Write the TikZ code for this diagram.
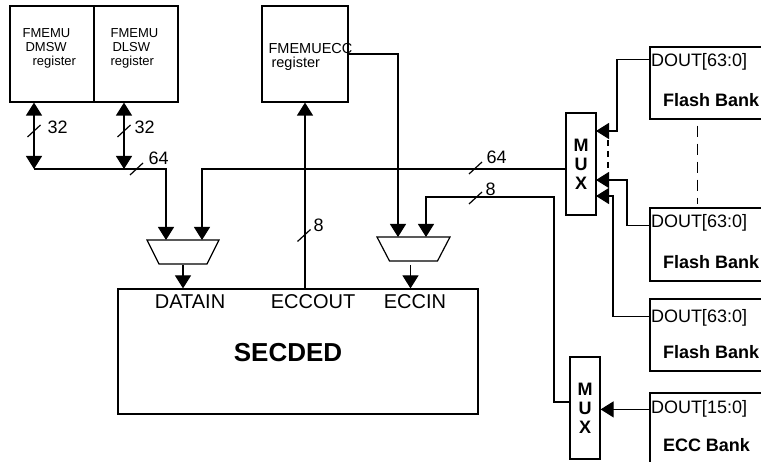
\documentclass[tikz,border=0pt]{standalone}
\usepackage{fontspec}
\setmainfont{Liberation Sans}
\usetikzlibrary{arrows.meta, positioning, calc}

\tikzset{
  box/.style={draw, inner sep=0pt},
  reg/.style={box, minimum width=84pt, minimum height=96pt},
  bank/.style={box, minimum width=130pt, minimum height=72pt},
  muxbox/.style={box, minimum width=30pt, minimum height=102pt, align=center,
    font=\bfseries\fontsize{18}{19}\selectfont},
  txt/.style={anchor=base west, inner sep=0pt},
  reglbl/.style={txt, font=\fontsize{13}{15}\selectfont},
  ecclbl/.style={txt, font=\fontsize{14.5}{16}\selectfont},
  portlbl/.style={anchor=base, inner sep=0pt, font=\fontsize{20}{22}\selectfont},
  buslbl/.style={txt, font=\fontsize{18}{20}\selectfont},
  doutlbl/.style={txt, font=\fontsize{18}{20}\selectfont},
  banklbl/.style={txt, font=\bfseries\fontsize{18}{20}\selectfont},
  arr/.style={-{Triangle[length=13pt,width=16pt]}},
  dbl/.style={{Triangle[length=13pt,width=16pt]}-{Triangle[length=13pt,width=16pt]}},
  dots/.style={dash pattern=on 6pt off 5pt},
  gap/.style={dash pattern=on 11pt off 7pt}
}

\begin{document}
\begin{tikzpicture}[x=1pt, y=-1pt, line width=1.2pt]
  \useasboundingbox (0,0) rectangle (761,462);
  \clip (0,0) rectangle (761,462);

  % Registers
  \node[reg] (dmsw) at (52,54) {};
  \node[reg] (dlsw) at (136,54) {};
  \node[reg, minimum width=86pt] (eccreg) at (305,54) {};
  \node[reglbl] (dmsw1) at (22,37.5) {FMEMU};
  \node[reglbl] (dmsw2) at (25,51.5) {DMSW};
  \node[reglbl] (dmsw3) at (32,66) {register};
  \node[reglbl] (dlsw1) at (110,37.5) {FMEMU};
  \node[reglbl] (dlsw2) at (112,51.5) {DLSW};
  \node[reglbl] (dlsw3) at (110,66) {register};
  \node[ecclbl] (ecc1) at (268,53.5) {FMEMUECC};
  \node[ecclbl] (ecc2) at (271,67.5) {register};

  % SECDED block
  \node[box, minimum width=360pt, minimum height=125pt] (secded) at (298,351.5) {};
  \node[portlbl] (datain) at (190,309) {DATAIN};
  \node[portlbl] (eccout) at (313,309) {ECCOUT};
  \node[portlbl] (eccin) at (415,309) {ECCIN};
  \node[anchor=base, inner sep=0pt, font=\bfseries\fontsize{26}{28}\selectfont] (sectxt) at (288,362) {SECDED};

  % Selectors
  \coordinate (muxatop) at (183,240);
  \coordinate (muxabot) at (183,264);
  \coordinate (muxbtop) at (413.5,237);
  \coordinate (muxbbot) at (413.5,261);
  \draw ([xshift=-36pt]muxatop) -- ([xshift=36pt]muxatop) -- ([xshift=24pt]muxabot) -- ([xshift=-24pt]muxabot) -- cycle;
  \draw ([xshift=-36.5pt]muxbtop) -- ([xshift=36.5pt]muxbtop) -- ([xshift=24pt]muxbbot) -- ([xshift=-24pt]muxbbot) -- cycle;

  % MUXes
  \node[muxbox] (mux1) at (581,164) {M\\U\\X};
  \node[muxbox] (mux2) at (585,408) {M\\U\\X};

  % Banks
  \node[bank] (bank1) at (715,83) {};
  \node[bank, minimum height=73pt] (bank2) at (715,244.5) {};
  \node[bank] (bank3) at (715,335) {};
  \node[bank, minimum height=90pt] (eccbank) at (715,438) {};
  \node[doutlbl] at ([shift={(1,20)}]bank1.north west) {DOUT[63:0]};
  \node[banklbl] at ([shift={(13,60)}]bank1.north west) {Flash Bank};
  \node[doutlbl] at ([shift={(1,20)}]bank2.north west) {DOUT[63:0]};
  \node[banklbl] at ([shift={(13,61)}]bank2.north west) {Flash Bank};
  \node[doutlbl] at ([shift={(1,24)}]bank3.north west) {DOUT[63:0]};
  \node[banklbl] at ([shift={(13,60.5)}]bank3.north west) {Flash Bank};
  \node[doutlbl] at ([shift={(1,21)}]eccbank.north west) {DOUT[15:0]};
  \node[banklbl] at ([shift={(13,59.5)}]eccbank.north west) {ECC Bank};

  % Register bus
  \coordinate (dmswj) at (34,169);
  \coordinate (dlswj) at (124,169);
  \draw[dbl] (dmsw.south -| dmswj) -- (dmswj);
  \draw[dbl] (dlsw.south -| dlswj) -- (dlswj);
  \draw[arr] (dmswj) -| ([xshift=-17pt]muxatop);
  \draw[arr] (mux1.west |- dmswj) -| ([xshift=19pt]muxatop);
  \draw[arr] ([yshift=-1pt]muxabot) -- (muxabot |- secded.north);

  % ECC path
  \coordinate (eccbus) at (554,197);
  \draw[arr] (secded.north -| eccreg) -- (eccreg.south);
  \draw[arr] (eccreg.east) -| ([xshift=-15.5pt]muxbtop);
  \draw[arr] ([yshift=6pt]mux2.west) -| (eccbus) -| ([xshift=12.5pt]muxbtop);
  \draw[arr] ([shift={(-3,4)}]muxbbot) -- ([xshift=-3pt]muxbbot |- secded.north);

  % Bank outputs
  \coordinate (m1a) at (596,131);
  \coordinate (m1b) at (596,180);
  \coordinate (m1c) at (596,196);
  \coordinate (eccport) at ([yshift=-17pt]eccbank.north west);
  \draw[arr] ([yshift=-13pt]bank1.north west) -| ([xshift=21pt]m1a) -- (m1a);
  \draw[arr] ([yshift=-18pt]bank2.north west) -| ([xshift=31pt]m1b) -- (m1b);
  \draw[arr] ([yshift=-18pt]bank3.north west) -| ([xshift=17pt]m1c) -- (m1c);
  \draw[arr] (eccport) -- (eccport -| mux2.east);
  \draw[dots] ([shift={(12,9)}]m1a) -- ([shift={(12,-7)}]m1b);
  \draw[gap] ([shift={(48,6)}]bank1.south west) -- ([shift={(48,-3)}]bank2.north west);

  % Bus widths
  \draw (27.5,137) -- ++(13,-12);
  \draw (117.5,137) -- ++(13,-12);
  \draw (130,175) -- ++(13,-12);
  \draw (297.5,241.5) -- ++(13,-12);
  \draw (469,174) -- ++(13,-12);
  \draw (469,204) -- ++(13,-12);
  \node[buslbl] at (47,133.5) {32};
  \node[buslbl] at (134,133.5) {32};
  \node[buslbl] at (148,164.5) {64};
  \node[buslbl] at (313,231.5) {8};
  \node[buslbl] at (486,163.5) {64};
  \node[buslbl] at (485,195.5) {8};
\end{tikzpicture}
\end{document}
